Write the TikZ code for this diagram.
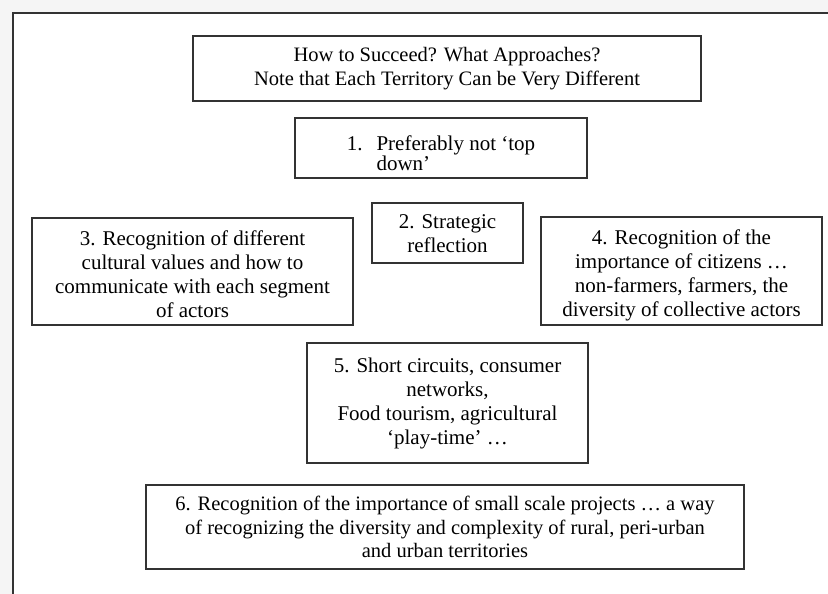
\documentclass[tikz,border=0pt]{standalone}
\usepackage{fontspec}
\setmainfont{Liberation Serif}
\newcommand{\boxlines}[2]{\raisebox{-#1}[\height][\depth]{\begin{tabular}{@{}c@{}}#2\end{tabular}}}
\begin{document}
\begin{tikzpicture}[x=1pt,y=-1pt,
  box/.style={draw=black!80,line width=1.1pt,rectangle,inner sep=0pt,align=center,
    font=\fontsize{21}{24}\selectfont},
  tbox/.style={box,font=\fontsize{20.5}{23.5}\selectfont}]
\useasboundingbox (0,0) rectangle (828,594);
\fill[black!4] (0,0) rectangle (828,594);
\clip (0,0) rectangle (828,594);
\draw[black!80,line width=1.4pt,fill=white] (13,13) rectangle (850,620);
\node[tbox,minimum width=508pt,minimum height=65pt] (title) at (447,68.5)
  {How to Succeed? What Approaches?\\Note that Each Territory Can be Very Different};
\node[box,minimum width=292pt,minimum height=60pt] (b1) at (441,148)
  {\raisebox{-8pt}[\height][\depth]{\begin{tabular}{@{}l@{\hspace{14pt}}l@{}}1. & Preferably not ‘top\\[-4pt] & down’\end{tabular}}};
\node[box,minimum width=151pt,minimum height=60pt] (b2) at (447.5,233)
  {\boxlines{3pt}{2. Strategic\\reflection}};
\node[box,minimum width=321pt,minimum height=107pt] (b3) at (192.5,271.5)
  {\boxlines{5pt}{3. Recognition of different\\cultural values and how to\\communicate with each segment\\of actors}};
\node[box,minimum width=281pt,minimum height=108pt] (b4) at (681.5,271)
  {\boxlines{5pt}{4. Recognition of the\\importance of citizens …\\non-farmers, farmers, the\\diversity of collective actors}};
\node[box,minimum width=281pt,minimum height=120pt] (b5) at (447.5,403)
  {5. Short circuits, consumer\\networks,\\Food tourism, agricultural\\‘play-time’ …};
\node[tbox,minimum width=598pt,minimum height=84pt] (b6) at (445,527)
  {6. Recognition of the importance of small scale projects … a way\\of recognizing the diversity and complexity of rural, peri-urban\\and urban territories};
\end{tikzpicture}
\end{document}
